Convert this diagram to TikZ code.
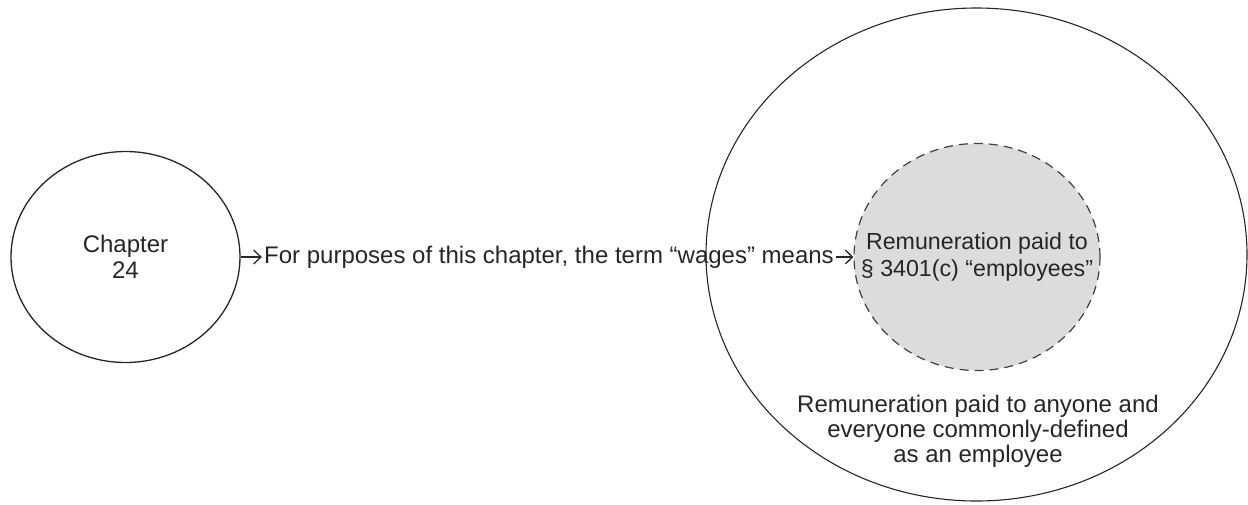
\documentclass[tikz,border=0pt]{standalone}
\usepackage{fontspec}
\setmainfont{Liberation Sans}
\usepackage{tikz}
\usetikzlibrary{arrows.meta,positioning,shapes.geometric}
\usepackage{xcolor}
\definecolor{empgray}{HTML}{DCDCDC}
\tikzset{
  bigset/.style={draw=black!85, ellipse, line width=0.55pt, inner sep=0pt},
  chapset/.style={draw=black!85, ellipse, line width=0.65pt, inner sep=0pt, align=center, font=\fontsize{12}{13}\selectfont, text=black!85},
  empset/.style={draw=black!75, fill=empgray, ellipse, dash pattern=on 4.5pt off 3pt, line width=0.6pt, inner sep=0pt},
  lbl/.style={align=center, inner sep=0pt, text=black!85, font=\fontsize{11.6}{13.5}\selectfont},
  deftext/.style={inner sep=1pt, text=black!85, font=\fontsize{12}{13}\selectfont},
  arrow/.style={-{Straight Barb[length=3.6pt,width=7pt]}, line width=0.65pt, draw=black!85}
}
\begin{document}
\begin{tikzpicture}[x=0.5pt, y=-0.5pt]
\useasboundingbox (0,0) rectangle (1248,504);
% the two sets on the right
\node[bigset, minimum width=270.5pt, minimum height=246.5pt] (outer) at (976.5,254.5) {};
\node[empset, minimum width=123pt, minimum height=113.5pt] (emp) at (977,257) {};
\node[lbl] (emptext) at (emp.center) {Remuneration paid to\\§ 3401(c) “employees”};
\node[lbl, font=\fontsize{12}{12.6}\selectfont] (outertext) at (978,431) {Remuneration paid to anyone and\\everyone commonly-defined\\as an employee};
% chapter and definition
\node[chapset, minimum width=114.5pt, minimum height=105.5pt] (ch) at (125.5,257) {Chapter\\24};
\node[deftext] (def) at (549,257) {For purposes of this chapter, the term “wages” means};
\draw[arrow] (ch) -- (def);
\draw[arrow] (def) -- (emp);
\end{tikzpicture}
\end{document}
